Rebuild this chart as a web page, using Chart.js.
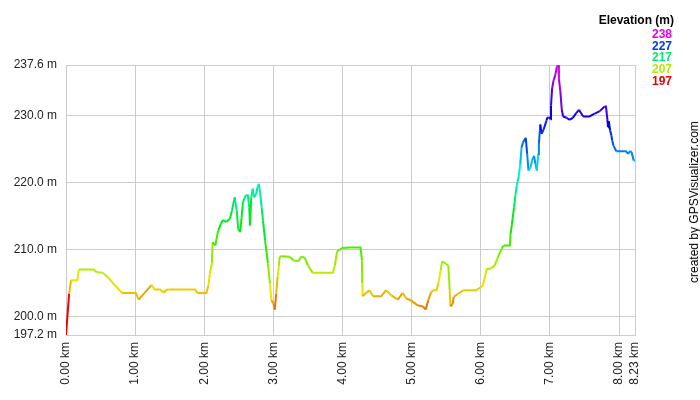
<!DOCTYPE html>
<html>
<head>
<meta charset="utf-8">
<script src="https://cdn.jsdelivr.net/npm/chart.js@4/dist/chart.umd.min.js"></script>
<style>
  html, body { margin: 0; padding: 0; background: #fff; }
  #wrap { position: relative; width: 700px; height: 400px; font-family: "Liberation Sans", Arial, sans-serif; }
  #legTitle { position: absolute; right: 26px; top: 13px; font-size: 12px; font-weight: bold; color: #000; line-height: 15px; }
  #legVals { position: absolute; right: 28px; top: 29px; font-size: 12px; font-weight: bold; line-height: 11.7px; text-align: right; }
  #credit { position: absolute; left: 693.5px; top: 202px; transform: translate(-50%, -50%) rotate(-90deg); white-space: nowrap; font-size: 12px; color: #000; }
</style>
</head>
<body>
<div id="wrap">
  <canvas id="c" width="700" height="400"></canvas>
  <div id="legTitle">Elevation (m)</div>
  <div id="legVals"></div>
  <div id="credit">created by GPSVisualizer.com</div>
</div>
<script>
const distKm = [
  0.00, 0.045, 0.074, 0.165, 0.185, 0.40, 0.445, 0.53,
  0.61, 0.71, 0.81, 1.01, 1.05, 1.24, 1.28, 1.36, 1.42, 1.44,
  1.48, 1.87, 1.90, 2.03, 2.06, 2.08, 2.11, 2.12, 2.16, 2.20,
  2.24, 2.27, 2.32, 2.37, 2.40, 2.44, 2.47, 2.49, 2.52, 2.54,
  2.56, 2.60, 2.63, 2.65, 2.66, 2.68, 2.70, 2.72, 2.75, 2.77,
  2.79, 2.81, 2.83, 2.85, 2.88, 2.92, 2.95, 2.97, 3.00, 3.02,
  3.04, 3.06, 3.08, 3.09, 3.12, 3.23, 3.30, 3.37, 3.40, 3.45,
  3.50, 3.57, 3.86, 3.89, 3.92, 3.99, 4.11, 4.26, 4.28, 4.285,
  4.29, 4.34, 4.39, 4.44, 4.56, 4.63, 4.71, 4.80, 4.87, 4.92,
  5.00, 5.09, 5.16, 5.20, 5.24, 5.28, 5.31, 5.36, 5.39, 5.42,
  5.44, 5.49, 5.53, 5.55, 5.56, 5.59, 5.61, 5.66, 5.75, 5.93,
  5.99, 6.03, 6.06, 6.08, 6.15, 6.20, 6.25, 6.30, 6.33, 6.42,
  6.43, 6.45, 6.48, 6.50, 6.52, 6.55, 6.57, 6.59, 6.61, 6.65,
  6.67, 6.69, 6.72, 6.74, 6.77, 6.79, 6.81, 6.83, 6.84, 6.86,
  6.88, 6.91, 6.95, 6.96, 6.98, 7.01, 7.015, 7.03, 7.05, 7.08,
  7.10, 7.12, 7.13, 7.15, 7.17, 7.19, 7.24, 7.28, 7.33, 7.38,
  7.42, 7.48, 7.57, 7.64, 7.72, 7.79, 7.81, 7.83, 7.84, 7.85,
  7.87, 7.89, 7.90, 7.92, 7.96, 8.10, 8.13, 8.16, 8.18, 8.21,
  8.23
];
const elevM = [
  197.2, 203.4, 205.4, 205.4, 207.0, 207.0, 206.6, 206.5,
  205.8, 204.6, 203.5, 203.5, 202.5, 204.7, 204.0, 204.0, 203.5, 203.9,
  204.0, 204.0, 203.5, 203.5, 204.6, 206.4, 207.9, 211.1, 210.6, 212.8,
  213.8, 214.4, 214.1, 214.6, 215.8, 217.8, 215.8, 213.1, 212.6, 214.8,
  217.1, 218.1, 218.1, 216.3, 213.6, 217.8, 219.1, 217.8, 218.3, 219.3,
  219.8, 218.3, 216.3, 214.3, 211.3, 207.9, 204.9, 202.4, 201.9, 201.0,
  203.4, 205.9, 207.6, 208.9, 209.0, 208.9, 208.3, 208.3, 208.9, 208.8,
  207.6, 206.5, 206.5, 207.6, 209.7, 210.2, 210.3, 210.3, 208.4, 204.9,
  203.0, 203.5, 203.9, 203.0, 203.0, 203.9, 203.1, 202.5, 203.5, 202.7,
  202.3, 201.6, 201.5, 201.0, 202.4, 203.6, 203.9, 203.9, 205.1, 206.9,
  208.2, 207.9, 207.6, 203.9, 201.5, 201.8, 202.9, 203.3, 203.9, 203.9,
  204.3, 204.6, 205.9, 207.0, 207.2, 207.6, 208.9, 210.1, 210.6, 210.6,
  212.3, 213.8, 216.3, 218.1, 219.6, 221.0, 222.8, 225.3, 226.0, 226.7,
  224.3, 221.8, 222.3, 223.3, 224.0, 222.8, 221.8, 224.3, 225.8, 228.7,
  227.3, 228.0, 229.3, 229.7, 229.8, 229.5, 231.5, 234.0, 235.2, 236.2,
  237.4, 237.6, 235.5, 233.7, 231.0, 229.9, 229.7, 229.4, 229.7, 230.4,
  230.9, 229.9, 229.9, 230.3, 230.7, 231.4, 231.4, 229.5, 228.3, 229.2,
  227.8, 227.0, 226.3, 225.5, 224.7, 224.7, 224.3, 224.7, 224.6, 223.3,
  223.3
];
const yTicks = [197.2, 200, 210, 220, 230, 237.6];
const xTicks = [0, 1, 2, 3, 4, 5, 6, 7, 8, 8.23];
const legendVals = [238, 227, 217, 207, 197];

function elevColor(e) {
  let h;
  if (e <= 227) h = (e - 197) * 7.5;
  else h = 225 + (e - 227) * 75 / 11;
  h = Math.max(0, Math.min(300, h));
  return 'hsl(' + h.toFixed(1) + ',100%,46%)';
}

document.getElementById('legVals').innerHTML =
  legendVals.map(v => '<div style="color:' + elevColor(v) + '">' + v + '</div>').join('');

const points = distKm.map((d, i) => ({ x: d, y: elevM[i] }));
const tickFont = { family: '"Liberation Sans", Arial, sans-serif', size: 12 };

new Chart(document.getElementById('c'), {
  type: 'line',
  data: {
    datasets: [{
      data: points,
      borderWidth: 2,
      pointRadius: 0,
      tension: 0,
      fill: false,
      borderColor: '#e0b000',
      segment: {
        borderColor: ctx => elevColor(ctx.p0.parsed.y)
      }
    }]
  },
  options: {
    responsive: false,
    animation: false,
    devicePixelRatio: 1,
    layout: { padding: { top: 65, right: 65, left: 0, bottom: 0 } },
    plugins: { legend: { display: false }, tooltip: { enabled: false } },
    scales: {
      x: {
        type: 'linear',
        min: 0,
        max: 8.23,
        afterBuildTicks: s => { s.ticks = xTicks.map(v => ({ value: v })); },
        afterFit: s => { s.height = 65; },
        ticks: {
          autoSkip: false,
          minRotation: 90,
          maxRotation: 90,
          padding: 7,
          color: '#222',
          font: tickFont,
          callback: v => Number(v).toFixed(2) + ' km'
        },
        grid: { color: '#cccccc', drawTicks: false, lineWidth: 1 },
        border: { color: '#cccccc' }
      },
      y: {
        type: 'linear',
        min: 197.2,
        max: 237.6,
        afterBuildTicks: s => { s.ticks = yTicks.map(v => ({ value: v })); },
        afterFit: s => { s.width = 66; },
        ticks: {
          autoSkip: false,
          padding: 9,
          color: '#222',
          font: tickFont,
          callback: v => Number(v).toFixed(1) + ' m'
        },
        grid: { color: '#cccccc', drawTicks: false, lineWidth: 1 },
        border: { color: '#cccccc' }
      }
    }
  }
});
</script>
</body>
</html>
